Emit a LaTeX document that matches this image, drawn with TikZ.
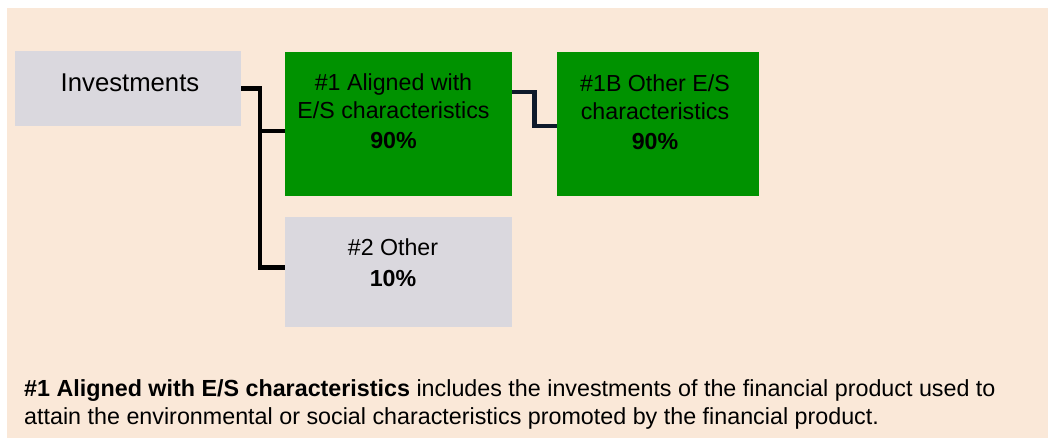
\documentclass[tikz,border=0pt]{standalone}
\usepackage{fontspec}
\setmainfont{Liberation Sans}
\usepackage{tikz}
\usetikzlibrary{positioning, calc}
\definecolor{sandbg}{RGB}{250,232,216}
\definecolor{boxgrey}{RGB}{218,216,222}
\definecolor{esgreen}{RGB}{0,146,0}
\definecolor{linknavy}{RGB}{14,26,43}
\tikzset{
    boxnode/.style={draw=none, rectangle, inner sep=0, anchor=north west},
    boxtext/.style={inner sep=0, align=center, anchor=north, font=\fontsize{23.2}{28}\selectfont},
    link/.style={line width=4.5pt, black},
}
\begin{document}
\begin{tikzpicture}[x=1pt, y=-1pt]
    % page and background
    \useasboundingbox (0,0) rectangle (1048,438);
    \fill[white] (0,0) rectangle (1048,438);
    \fill[sandbg] (7,8) rectangle (1048,438);

    % boxes
    \foreach \name/\x/\y/\w/\h/\co in {
        inv/15/51/226/75/boxgrey,
        al/285/52/227/144/esgreen,
        alb/557/52/202/144/esgreen,
        oth/285/217/227/110/boxgrey}{
        \node[boxnode, fill=\co, minimum width=\w*1pt, minimum height=\h*1pt] (\name) at (\x,\y) {};
    }

    % box texts
    \node[anchor=base, inner sep=0, font=\fontsize{25.7}{30}\selectfont] (invt) at (130,92) {Investments};
    \node[boxtext] (alt) at (393.5,73.4) {\#1 Aligned with\\E/S characteristics\\[2pt]\textbf{90\%}};
    \node[boxtext] (albt) at (655,74.1) {\#1B Other E/S\\characteristics\\[2pt]\textbf{90\%}};
    \node[boxtext] (otht) at (393,238.4) {\#2 Other\\[3pt]\textbf{10\%}};

    % connectors
    \draw[link] (inv.east) -| ($(oth.west)+(-25,-4.5)$) -- ($(oth.west)+(0,-4.5)$);
    \draw[link] ($(al.west)+(-25,7)$) -- ($(al.west)+(0,7)$);
    \draw[link, linknavy] ($(al.east)+(0,-32)$) -- ++(22,0) |- ($(alb.west)+(0,2)$);

    % note
    \node[anchor=north west, inner sep=0, align=left, font=\fontsize{23.3}{27.6}\selectfont] (note) at (24,379.7)
        {\textbf{\#1 Aligned with E/S characteristics} includes the investments of the financial product used to\\
         attain the environmental or social characteristics promoted by the financial product.};
\end{tikzpicture}
\end{document}
